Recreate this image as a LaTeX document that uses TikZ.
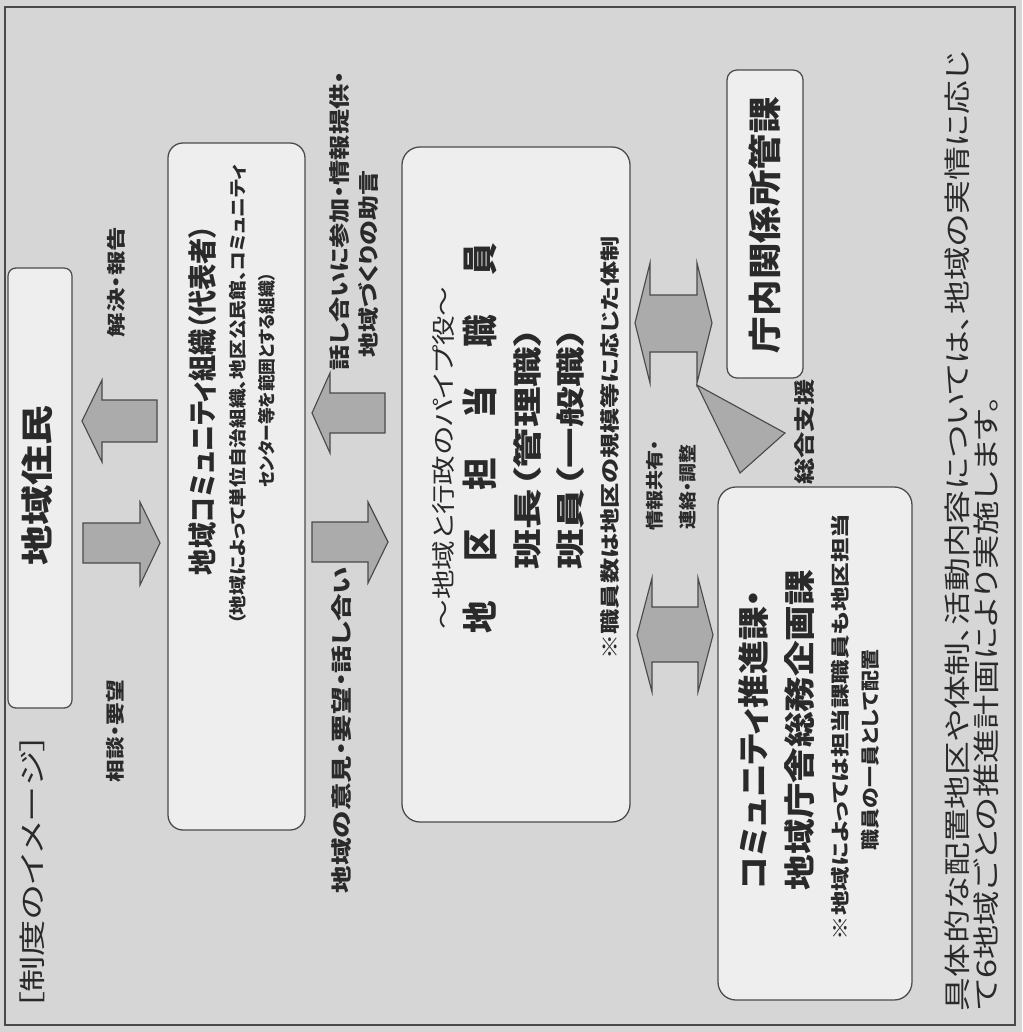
\documentclass[tikz,border=0pt]{standalone}
\usepackage{fontspec}
\usepackage{graphicx}
\newfontfamily\jp[RawFeature=+palt]{Noto Sans CJK JP}
\newlength\pxu
\setlength\pxu{0.025cm}
\newcommand\fitline[3]{\resizebox*{#1\pxu}{#2\pxu}{#3}}
\definecolor{bgc}{HTML}{D6D6D6}
\definecolor{boxc}{HTML}{EEEEEE}
\definecolor{arrc}{HTML}{ABABAB}
\definecolor{linec}{HTML}{4A4A4A}
\definecolor{txtc}{HTML}{2A2A2A}
\begin{document}
\begin{tikzpicture}[x=0.025cm,y=-0.025cm,
  lbl/.style={rotate=90,inner sep=0pt,text=txtc,font=\jp},
  lblb/.style={lbl,font=\jp\bfseries},
  roundbox/.style={draw=linec,line width=0.9pt,fill=boxc,inner sep=0pt},
  blockarrow/.style={draw=linec,line width=0.8pt,fill=arrc,line join=miter},
  frameline/.style={draw=linec,line width=1.2pt}]
\useasboundingbox (0,0) rectangle (1022,1032);
\fill[bgc] (0,0) rectangle (1022,1032);
\draw[frameline] (5,7) rectangle (1015,1025);

% boxes
\node[roundbox,rounded corners=8\pxu,minimum width=64\pxu,minimum height=440\pxu] (jumin) at (40,488) {};
\node[roundbox,rounded corners=15\pxu,minimum width=137\pxu,minimum height=687\pxu] (comm) at (236.5,486.5) {};
\node[roundbox,rounded corners=18\pxu,minimum width=228\pxu,minimum height=675\pxu] (chiku) at (516,484.5) {};
\node[roundbox,rounded corners=10\pxu,minimum width=76\pxu,minimum height=308\pxu] (chonai) at (765,224) {};
\node[roundbox,rounded corners=18\pxu,minimum width=194\pxu,minimum height=513\pxu] (suishin) at (815,743.5) {};

% block arrows
\draw[blockarrow] (82,421) -- (102,380) -- (102,400) -- (157,400) -- (157,442) -- (102,442) -- (102,462) -- cycle;
\draw[blockarrow] (83,523) -- (140,523) -- (140,502) -- (160,543) -- (140,585) -- (140,563) -- (83,563) -- cycle;
\draw[blockarrow] (312,413) -- (330,373) -- (330,393) -- (385,393) -- (385,433) -- (330,433) -- (330,453) -- cycle;
\draw[blockarrow] (312,522) -- (368,522) -- (368,502) -- (388,542) -- (368,583) -- (368,562) -- (312,562) -- cycle;
\draw[blockarrow] (635,323) -- (650,263) -- (650,295) -- (697,295) -- (697,263) -- (712,323) -- (697,383) -- (697,352) -- (650,352) -- (650,383) -- cycle;
\draw[blockarrow] (637,635) -- (652,578) -- (652,607) -- (698,607) -- (698,578) -- (713,635) -- (698,692) -- (698,662) -- (652,662) -- (652,692) -- cycle;
\draw[blockarrow] (697,385) -- (785,433) -- (740,473) -- cycle;

% texts
\node[lblb] (tjumin) at (37,485) {\fitline{160}{31}{地域住民}};
\node[lbl] (tseido) at (32,872) {\fitline{277}{25}{［制度のイメージ］}};
\node[lblb] (tsodan) at (115,731) {\fitline{102}{18}{相談・要望}};
\node[lblb] (tkaiketsu) at (116,282) {\fitline{110}{18}{解決・報告}};
\node[lblb] (tcommtitle) at (202,400) {\fitline{350}{28}{地域コミュニティ組織（代表者）}};
\node[lblb] (tcommsub1) at (238,395) {\fitline{460}{17}{（地域によって単位自治組織、地区公民館、コミュニティ}};
\node[lblb] (tcommsub2) at (267,380) {\fitline{215}{17}{センター等を範囲とする組織）}};
\node[lbl] (tpipe) at (443,458) {\fitline{343}{22}{～地域と行政のパイプ役～}};
\node[lblb] (tchiku) at (480,438) {\fitline{390}{34}{地\hspace{1.2em}区\hspace{1.2em}担\hspace{1.2em}当\hspace{1.2em}職\hspace{1.2em}員}};
\node[lblb] (thancho) at (527,448) {\fitline{243}{28}{班長（管理職）}};
\node[lblb] (thanin) at (570,448) {\fitline{243}{28}{班員（一般職）}};
\node[lblb] (tnote1) at (610,448) {\fitline{423}{19}{※職員数は地区の規模等に応じた体制}};
\node[lblb] (thanashi) at (340,221) {\fitline{298}{20}{話し合いに参加・情報提供・}};
\node[lblb] (tjogen) at (368,264) {\fitline{187}{20}{地域づくりの助言}};
\node[lblb] (tiken) at (342,730) {\fitline{326}{20}{地域の意見・要望・話し合い}};
\node[lblb] (tjoho) at (655,485) {\fitline{90}{17}{情報共有・}};
\node[lblb] (trenraku) at (688,487) {\fitline{85}{17}{連絡・調整}};
\node[lblb] (tsogo) at (805,432) {\fitline{105}{20}{総合支援}};
\node[lblb] (tchonai) at (765,225) {\fitline{256}{32}{庁内関係所管課}};
\node[lblb] (tsuishin1) at (753,740) {\fitline{300}{30}{コミュニティ推進課・}};
\node[lblb] (tsuishin2) at (800,730) {\fitline{320}{30}{地域庁舎総務企画課}};
\node[lblb] (tnote2) at (840,727) {\fitline{427}{18}{※地域によっては担当課職員も地区担当}};
\node[lblb] (tnote3) at (870,750) {\fitline{200}{18}{職員の一員として配置}};
\node[lbl] (tfoot1) at (957,531) {\fitline{960}{25}{具体的な配置地区や体制、活動内容については、地域の実情に応じ}};
\node[lbl] (tfoot2) at (986,703) {\fitline{615}{25}{て6地域ごとの推進計画により実施します。}};
\end{tikzpicture}
\end{document}
